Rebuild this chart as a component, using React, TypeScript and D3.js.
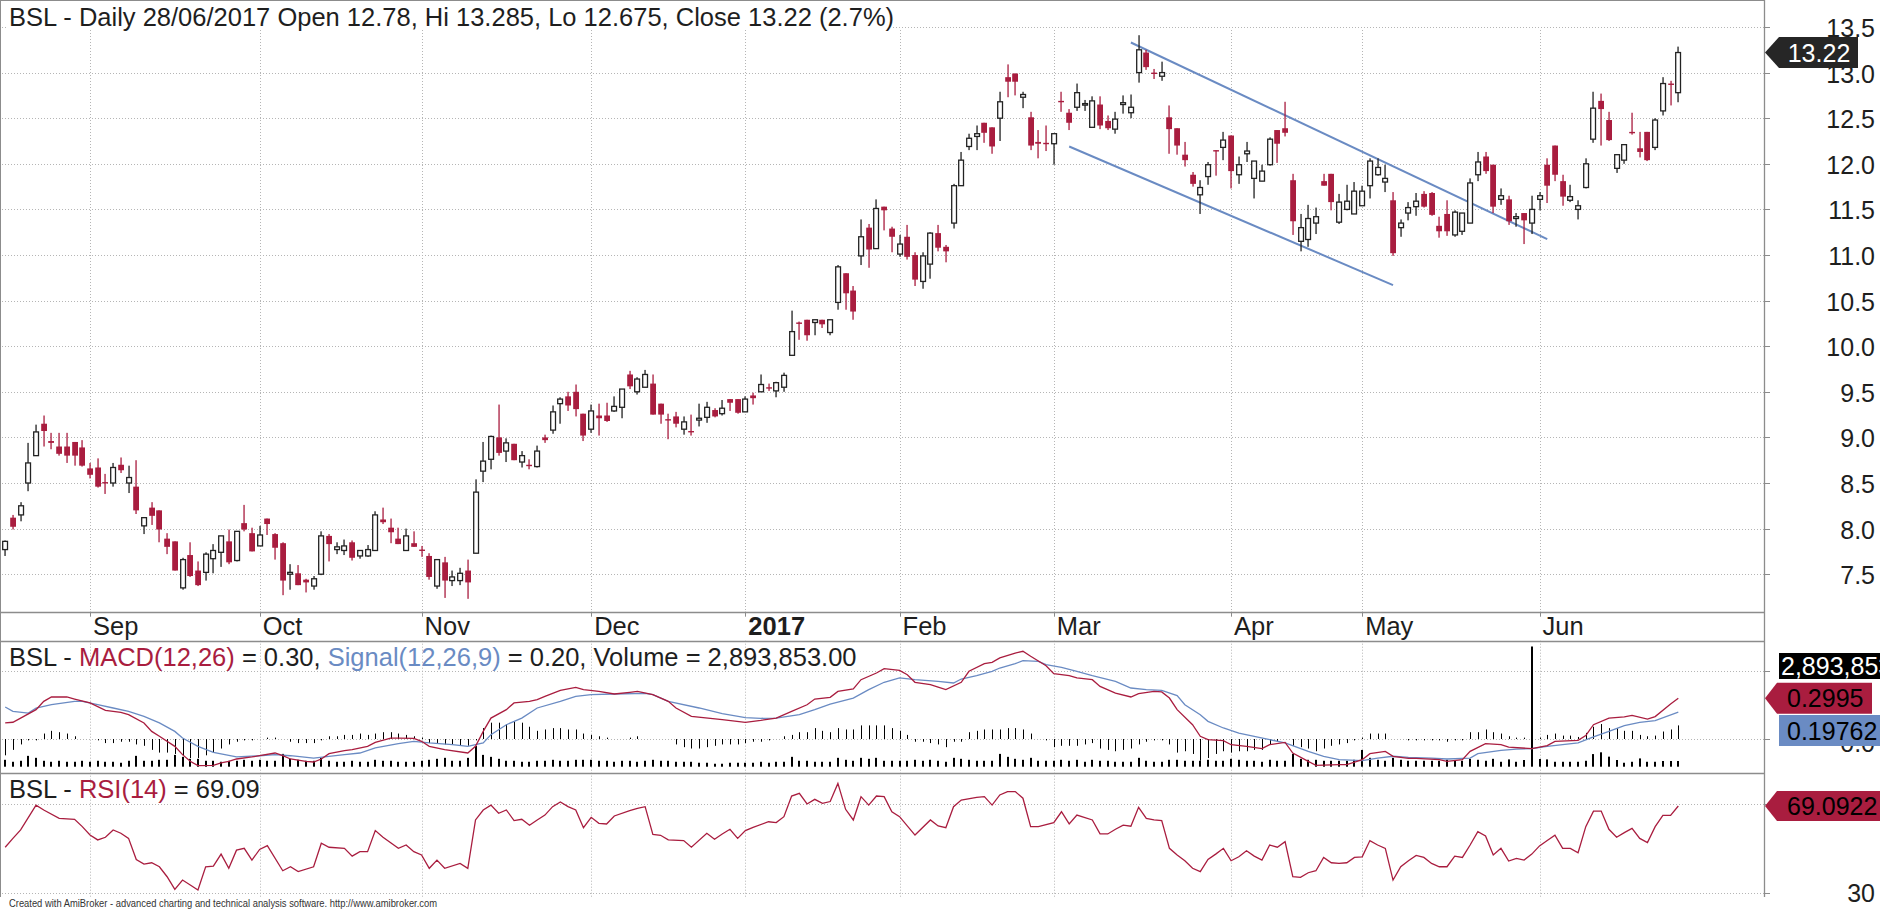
import React from 'react';
import * as d3 from 'd3';

// ---------- DATA ----------
const OPEN = [7.77,8.12,8.15,8.50,8.80,9.15,8.96,8.90,8.90,8.95,8.89,8.66,8.67,8.51,8.50,8.70,8.50,8.46,8.03,8.23,8.20,7.89,7.86,7.35,7.71,7.54,7.52,7.67,7.74,7.86,7.65,8.06,7.95,7.81,8.11,7.94,7.84,7.50,7.51,7.44,7.37,7.50,7.92,7.77,7.76,7.85,7.70,7.70,7.76,8.10,8.01,7.89,7.76,7.84,7.77,7.70,7.37,7.63,7.43,7.43,7.54,7.73,8.63,8.76,9.00,8.85,8.93,8.73,8.70,8.68,9.00,9.08,9.37,9.45,9.50,9.26,9.09,9.24,9.24,9.29,9.33,9.69,9.50,9.55,9.59,9.37,9.20,9.23,9.09,9.07,9.19,9.22,9.30,9.26,9.42,9.42,9.28,9.46,9.50,9.55,9.51,9.55,9.90,10.26,10.29,10.26,10.29,10.15,10.48,10.80,10.61,10.99,11.30,11.07,11.53,11.29,11.01,11.20,11.00,10.71,10.90,11.24,11.09,11.35,11.76,12.19,12.30,12.45,12.40,12.50,12.95,12.99,12.73,12.51,12.24,12.23,12.22,12.69,12.56,12.62,12.65,12.40,12.65,12.47,12.38,12.65,12.56,13.00,13.22,13.00,12.96,12.51,12.39,12.10,11.88,11.66,11.86,12.15,12.18,12.31,11.88,12.11,11.84,11.81,11.99,12.37,12.39,11.82,11.15,11.17,11.35,11.81,11.89,11.36,11.50,11.45,11.54,11.76,11.88,11.80,11.60,11.30,11.46,11.53,11.67,11.68,11.32,11.45,11.22,11.26,11.35,11.88,12.08,11.99,11.61,11.61,11.40,11.46,11.35,11.61,11.99,12.20,11.81,11.60,11.50,11.74,12.27,12.69,12.48,11.95,12.04,12.35,12.17,12.35,12.18,12.58,12.88,12.78];
const HIGH = [7.87,8.15,8.29,8.94,9.14,9.24,9.05,9.05,9.05,8.95,8.97,8.72,8.77,8.60,8.72,8.78,8.69,8.75,8.12,8.29,8.20,7.95,7.86,7.68,7.85,7.64,7.74,7.83,7.92,7.99,7.97,8.26,8.01,8.03,8.11,7.95,7.85,7.61,7.60,7.45,7.48,7.97,7.94,7.85,7.88,7.87,7.76,7.82,8.19,8.23,8.11,8.01,8.00,7.97,7.81,7.73,7.66,7.69,7.54,7.57,7.66,8.54,8.95,9.02,9.36,8.99,8.93,8.85,8.76,8.91,9.03,9.35,9.44,9.50,9.58,9.26,9.36,9.37,9.38,9.45,9.53,9.73,9.66,9.74,9.69,9.37,9.26,9.28,9.23,9.25,9.37,9.39,9.32,9.41,9.42,9.42,9.45,9.49,9.69,9.59,9.61,9.71,10.39,10.27,10.29,10.29,10.29,10.29,10.89,10.80,10.66,11.39,11.34,11.61,11.53,11.31,11.22,11.33,11.03,11.03,11.25,11.33,11.11,11.78,12.13,12.33,12.42,12.45,12.40,12.79,13.09,12.99,12.79,12.57,12.37,12.42,12.33,12.79,12.60,12.88,12.70,12.74,12.74,12.53,12.57,12.75,12.76,13.41,13.25,13.04,13.12,12.64,12.39,12.24,11.91,11.82,12.02,12.15,12.35,12.31,12.08,12.24,12.03,11.99,12.29,12.37,12.68,11.89,11.45,11.55,11.52,11.89,11.89,11.67,11.77,11.80,11.76,12.06,12.06,11.99,11.69,11.39,11.58,11.68,11.70,11.69,11.42,11.60,11.49,11.46,11.84,12.13,12.13,11.99,11.73,11.65,11.46,11.46,11.65,11.69,12.06,12.20,11.88,11.77,11.60,12.06,12.79,12.77,12.57,12.10,12.21,12.56,12.35,12.35,12.50,12.95,12.91,13.285];
const LOW = [7.70,7.99,8.08,8.41,8.80,8.90,8.87,8.80,8.72,8.69,8.68,8.55,8.45,8.38,8.46,8.61,8.39,8.16,7.94,8.04,7.85,7.72,7.54,7.33,7.47,7.37,7.43,7.51,7.58,7.61,7.64,7.97,7.75,7.81,7.93,7.66,7.27,7.33,7.38,7.30,7.33,7.49,7.64,7.72,7.71,7.65,7.67,7.69,7.76,8.05,7.84,7.83,7.76,7.80,7.69,7.44,7.34,7.24,7.37,7.38,7.23,7.73,8.51,8.65,8.80,8.73,8.75,8.67,8.65,8.67,8.94,9.04,9.15,9.29,9.23,8.96,9.05,9.02,9.17,9.28,9.21,9.53,9.47,9.55,9.25,9.15,8.98,9.11,9.03,9.02,9.12,9.16,9.22,9.24,9.29,9.26,9.28,9.36,9.50,9.51,9.44,9.50,9.90,10.07,10.06,10.12,10.20,10.12,10.40,10.40,10.29,10.89,10.86,11.07,11.27,11.03,10.98,10.95,10.66,10.63,10.74,11.04,10.92,11.29,11.76,12.15,12.15,12.23,12.11,12.25,12.73,12.75,12.61,12.15,12.06,12.14,11.99,12.57,12.37,12.58,12.58,12.40,12.38,12.37,12.33,12.55,12.50,12.89,13.03,12.93,12.91,12.11,12.10,11.97,11.75,11.45,11.77,11.87,12.04,11.73,11.78,12.02,11.62,11.81,11.98,12.01,12.30,11.22,11.04,11.09,11.23,11.76,11.49,11.34,11.49,11.45,11.54,11.62,11.87,11.69,10.99,11.20,11.38,11.43,11.52,11.43,11.19,11.21,11.20,11.22,11.35,11.81,11.89,11.46,11.55,11.33,11.31,11.12,11.23,11.49,11.57,11.81,11.54,11.58,11.39,11.73,12.23,12.20,12.25,11.90,12.00,12.32,12.07,12.03,12.15,12.53,12.64,12.675];
const CLOSE = [7.86,8.02,8.25,8.72,9.06,9.07,8.94,8.82,8.80,8.80,8.69,8.59,8.46,8.50,8.67,8.64,8.56,8.20,8.12,8.14,7.99,7.80,7.54,7.66,7.48,7.38,7.72,7.76,7.92,7.63,7.97,7.99,7.75,7.93,8.05,7.79,7.43,7.52,7.38,7.41,7.45,7.92,7.83,7.80,7.81,7.68,7.76,7.77,8.15,8.07,7.96,7.83,7.92,7.80,7.76,7.47,7.66,7.43,7.47,7.51,7.41,8.40,8.74,9.01,8.83,8.94,8.75,8.80,8.69,8.85,8.97,9.28,9.42,9.35,9.31,9.02,9.29,9.21,9.18,9.34,9.53,9.56,9.64,9.69,9.25,9.25,9.19,9.15,9.17,9.06,9.21,9.33,9.23,9.32,9.38,9.27,9.42,9.43,9.58,9.54,9.60,9.68,10.16,10.25,10.12,10.29,10.24,10.29,10.87,10.58,10.38,11.20,11.06,11.51,11.49,11.20,11.12,10.98,10.73,10.99,11.24,11.08,11.04,11.76,12.04,12.28,12.33,12.34,12.19,12.68,12.90,12.90,12.76,12.20,12.22,12.22,12.33,12.68,12.45,12.78,12.66,12.69,12.42,12.39,12.49,12.67,12.62,13.25,13.06,12.99,13.00,12.38,12.20,12.04,11.78,11.74,11.99,12.14,12.26,11.92,11.99,12.14,12.03,11.92,12.27,12.22,12.34,11.37,11.30,11.40,11.42,11.76,11.58,11.58,11.59,11.70,11.70,12.03,11.96,11.84,11.02,11.35,11.52,11.59,11.53,11.44,11.26,11.26,11.47,11.46,11.79,12.02,11.92,11.53,11.65,11.37,11.42,11.38,11.50,11.65,11.76,11.88,11.64,11.64,11.54,12.00,12.61,12.60,12.26,12.10,12.21,12.34,12.13,12.04,12.48,12.88,12.87,13.22];

// volume in millions of shares
const VOLUME = [3.5,2.5,3.0,5.5,4.5,3.0,2.5,3.0,2.5,2.5,3.0,
  2.5,3.0,2.5,2.5,2.0,3.0,5.5,3.0,3.0,3.5,3.5,6.0,5.0,4.0,4.0,3.0,3.0,2.5,3.0,3.0,3.5,3.0,
  3.5,3.0,3.0,6.5,4.0,3.5,3.0,3.0,4.5,3.0,2.5,2.5,3.0,2.5,2.5,3.5,3.0,3.0,2.5,2.5,2.5,
  3.0,3.5,4.0,4.5,3.0,3.0,4.5,10.5,6.0,5.0,4.0,3.0,3.0,2.5,2.5,3.0,3.0,3.5,3.0,3.0,3.5,3.5,
  3.5,3.0,3.0,2.5,3.0,3.0,2.5,3.0,3.5,3.0,3.0,2.5,2.5,2.5,2.0,2.0,1.5,1.5,2.0,2.0,
  2.0,2.0,2.5,2.0,2.5,2.5,5.0,3.0,3.0,2.5,2.5,2.5,4.5,3.5,3.0,4.5,4.0,4.5,3.0,3.0,
  3.0,3.0,3.5,3.0,3.5,3.0,2.5,4.5,4.0,3.5,3.0,3.0,3.0,6.5,5.0,4.0,3.5,4.5,3.0,3.0,
  3.0,3.5,3.0,3.5,2.5,3.5,3.0,3.0,2.5,2.5,2.5,4.5,3.0,2.5,2.5,3.5,3.5,3.0,3.0,3.0,3.5,3.0,3.0,
  4.0,3.5,3.0,3.0,2.5,3.5,3.0,3.0,6.5,4.0,3.5,3.5,3.0,3.0,3.0,3.0,3.5,
  8.5,4.5,3.5,3.0,4.5,3.5,3.0,3.0,3.0,3.0,3.0,3.5,3.0,3.0,4.0,3.5,3.0,4.0,2.5,3.7,2.5,3.4,61.0,
  3.9,3.7,2.5,2.5,2.5,2.5,3.0,6.4,7.3,5.1,3.4,2.0,2.5,4.2,2.5,2.5,2.9,2.9,2.894];
// MACD histogram (MACD - signal) per bar
const HIST = [-0.12,-0.08,-0.04,-0.01,-0.01,0.04,0.06,0.05,0.04,0.02,0.00,0.00,-0.01,-0.03,-0.03,-0.02,-0.02,-0.04,-0.05,-0.08,-0.10,-0.10,-0.11,-0.12,-0.14,-0.14,-0.12,-0.10,-0.07,-0.04,-0.02,-0.01,-0.01,0.00,0.01,0.01,0.00,-0.02,-0.03,-0.03,-0.03,-0.01,0.02,0.02,0.03,0.03,0.04,0.03,0.04,0.05,0.05,0.04,0.03,0.02,0.01,-0.03,-0.03,-0.04,-0.04,-0.05,-0.05,-0.01,0.08,0.12,0.12,0.11,0.13,0.12,0.09,0.06,0.07,0.08,0.08,0.07,0.07,0.04,0.03,0.02,0.01,0.00,0.00,0.01,0.02,0.00,0.00,0.00,0.00,-0.04,-0.06,-0.07,-0.07,-0.06,-0.05,-0.04,-0.04,-0.04,-0.03,-0.02,-0.02,-0.01,0.00,0.02,0.03,0.05,0.05,0.08,0.06,0.05,0.08,0.07,0.07,0.10,0.10,0.10,0.10,0.08,0.06,0.03,-0.02,-0.02,-0.03,-0.04,-0.06,-0.02,-0.02,0.05,0.06,0.07,0.07,0.07,0.08,0.08,0.07,0.04,0.00,-0.01,-0.06,-0.05,-0.05,-0.05,-0.04,-0.03,-0.07,-0.08,-0.09,-0.08,-0.07,-0.04,-0.02,-0.01,-0.01,-0.04,-0.10,-0.09,-0.11,-0.16,-0.14,-0.11,-0.09,-0.10,-0.09,-0.09,-0.08,-0.08,-0.04,-0.02,0.00,-0.05,-0.06,-0.07,-0.09,-0.07,-0.05,-0.04,-0.03,-0.01,0.01,0.04,0.04,0.04,0.00,0.00,-0.01,-0.01,-0.01,-0.01,-0.01,-0.02,-0.01,-0.01,0.05,0.05,0.07,0.05,0.04,0.02,0.01,0.01,0.00,0.01,0.03,0.04,0.025,0.025,0.015,0.045,0.09,0.11,0.08,0.08,0.06,0.06,0.03,0.02,0.025,0.055,0.07,0.10];

const MONTHS = [
  { label: 'Sep', bar: 11, bold: false },
  { label: 'Oct', bar: 33, bold: false },
  { label: 'Nov', bar: 54, bold: false },
  { label: 'Dec', bar: 76, bold: false },
  { label: '2017', bar: 96, bold: true },
  { label: 'Feb', bar: 116, bold: false },
  { label: 'Mar', bar: 136, bold: false },
  { label: 'Apr', bar: 159, bold: false },
  { label: 'May', bar: 176, bold: false },
  { label: 'Jun', bar: 199, bold: false },
];
const PRICE_TICKS = [7.5, 8.0, 8.5, 9.0, 9.5, 10.0, 10.5, 11.0, 11.5, 12.0, 12.5, 13.0, 13.5];
const MACD_TICKS = [0, 0.5];
const RSI_TICKS = [30, 70];

// trend lines: [bar1, price1, bar2, price2]
const TRENDLINES = [
  [146, 13.33, 200, 11.175],
  [138, 12.19, 180, 10.67],
];

// indicator vertices [bar, value]
const MACD_PTS = [[0,0.118],[1,0.123],[2,0.154],[4,0.216],[5,0.277],[6,0.309],[8,0.309],[9,0.294],[11,0.265],[13,0.211],[15,0.196],[16,0.179],[18,0.118],[19,0.056],[20,0.020],[22,-0.054],[23,-0.115],[24,-0.164],[25,-0.196],[27,-0.194],[28,-0.176],[29,-0.164],[30,-0.147],[32,-0.132],[33,-0.123],[35,-0.103],[36,-0.123],[37,-0.147],[39,-0.164],[40,-0.169],[41,-0.147],[42,-0.108],[44,-0.086],[45,-0.078],[47,-0.054],[48,-0.025],[50,0.007],[51,0.007],[53,0.005],[54,-0.017],[55,-0.054],[57,-0.078],[60,-0.103],[61,-0.054],[62,0.056],[63,0.154],[65,0.216],[66,0.265],[68,0.277],[69,0.289],[70,0.314],[72,0.358],[74,0.380],[75,0.363],[77,0.350],[79,0.331],[81,0.343],[82,0.350],[84,0.326],[86,0.277],[87,0.228],[89,0.167],[93,0.142],[96,0.123],[98,0.137],[100,0.154],[102,0.203],[104,0.252],[105,0.294],[107,0.306],[108,0.350],[110,0.368],[111,0.436],[113,0.485],[114,0.517],[116,0.505],[117,0.473],[118,0.417],[120,0.400],[121,0.382],[122,0.363],[124,0.417],[125,0.498],[127,0.554],[128,0.564],[129,0.596],[131,0.632],[132,0.645],[133,0.608],[135,0.539],[136,0.480],[138,0.466],[139,0.449],[141,0.436],[142,0.387],[144,0.338],[146,0.309],[147,0.333],[149,0.350],[150,0.346],[151,0.301],[152,0.216],[154,0.105],[155,0.020],[156,-0.005],[158,-0.012],[159,-0.042],[161,-0.054],[163,-0.071],[164,-0.042],[166,-0.025],[167,-0.103],[169,-0.164],[170,-0.194],[173,-0.189],[174,-0.189],[176,-0.152],[177,-0.108],[179,-0.091],[180,-0.127],[182,-0.142],[183,-0.142],[186,-0.152],[187,-0.164],[189,-0.152],[190,-0.091],[192,-0.034],[194,-0.042],[195,-0.059],[198,-0.071],[200,-0.049],[201,-0.017],[204,-0.010],[205,0.025],[206,0.105],[208,0.154],[210,0.162],[211,0.174],[213,0.147],[214,0.165],[216,0.258],[217,0.2995]];
const SIGNAL_PTS = [[0,0.235],[1,0.203],[3,0.191],[4,0.228],[6,0.252],[9,0.277],[10,0.277],[12,0.252],[14,0.228],[16,0.203],[18,0.167],[20,0.118],[22,0.056],[23,0.007],[25,-0.054],[27,-0.098],[29,-0.120],[30,-0.132],[33,-0.123],[35,-0.115],[37,-0.123],[40,-0.140],[42,-0.127],[44,-0.115],[46,-0.103],[48,-0.066],[51,-0.034],[53,-0.017],[55,-0.029],[58,-0.042],[60,-0.054],[62,-0.029],[63,0.032],[65,0.105],[67,0.154],[69,0.228],[72,0.277],[74,0.314],[76,0.326],[79,0.331],[83,0.336],[84,0.326],[86,0.277],[90,0.228],[93,0.186],[96,0.157],[98,0.152],[100,0.154],[103,0.179],[105,0.216],[107,0.257],[110,0.301],[112,0.363],[114,0.417],[116,0.449],[118,0.436],[121,0.424],[123,0.412],[124,0.441],[126,0.466],[128,0.498],[129,0.522],[131,0.554],[132,0.576],[134,0.571],[135,0.547],[137,0.527],[139,0.498],[141,0.466],[144,0.424],[146,0.375],[148,0.363],[150,0.358],[152,0.319],[153,0.252],[155,0.179],[156,0.130],[158,0.081],[160,0.044],[162,0.020],[164,-0.005],[166,-0.029],[169,-0.091],[171,-0.127],[173,-0.152],[176,-0.159],[178,-0.140],[180,-0.127],[182,-0.135],[185,-0.140],[187,-0.147],[190,-0.140],[191,-0.108],[194,-0.083],[196,-0.074],[198,-0.071],[200,-0.054],[202,-0.042],[204,-0.029],[206,0.015],[208,0.056],[210,0.098],[212,0.123],[214,0.135],[217,0.1976]];
const RSI_PTS = [[0,50.5],[1,54.5],[2,58.3],[4,69.5],[5,67.3],[7,63.5],[9,63.1],[10,59.8],[11,56.0],[12,53.8],[13,55.0],[14,58.3],[15,56.8],[16,54.5],[17,45.0],[18,42.9],[19,43.5],[20,41.7],[21,37.2],[22,31.5],[23,35.7],[24,33.5],[25,31.2],[26,41.7],[27,42.0],[28,47.4],[29,41.0],[30,49.2],[31,50.0],[32,44.7],[33,49.5],[34,51.2],[36,39.9],[37,41.7],[38,39.5],[40,41.7],[41,52.3],[42,50.5],[44,50.0],[45,46.5],[46,48.5],[47,48.5],[48,58.0],[49,55.0],[51,50.0],[52,51.5],[53,48.5],[54,47.0],[55,41.0],[56,44.7],[57,41.0],[59,43.2],[60,41.0],[61,62.8],[62,67.3],[63,69.5],[64,65.8],[65,67.3],[66,62.5],[67,63.1],[68,60.4],[69,62.8],[70,65.0],[71,68.8],[72,70.9],[73,68.8],[74,67.3],[75,59.3],[76,64.0],[77,61.3],[78,61.0],[79,64.6],[81,67.0],[82,68.0],[83,68.8],[84,56.3],[85,55.9],[86,53.8],[88,53.5],[89,50.5],[91,56.8],[92,54.1],[93,56.5],[94,58.6],[95,54.5],[96,58.0],[97,59.5],[99,62.0],[100,61.6],[101,64.3],[102,73.6],[103,74.8],[104,70.0],[105,72.1],[106,70.3],[107,71.1],[108,79.3],[109,67.6],[110,62.8],[111,73.3],[112,69.5],[113,73.6],[114,73.3],[115,66.5],[116,64.3],[118,56.0],[120,62.8],[121,60.1],[122,59.3],[123,68.8],[124,71.8],[126,73.0],[127,73.3],[128,69.5],[129,74.1],[130,75.6],[131,75.6],[132,72.6],[133,59.8],[134,59.8],[136,61.6],[137,66.5],[138,61.0],[139,65.0],[141,62.8],[142,56.5],[143,56.5],[144,58.6],[145,60.5],[146,60.0],[147,68.5],[148,63.5],[149,62.8],[150,62.5],[151,50.0],[152,47.0],[153,44.4],[154,41.0],[155,39.5],[156,45.0],[157,47.4],[158,50.0],[159,44.4],[160,46.2],[161,48.9],[162,46.5],[163,44.7],[164,51.5],[165,50.5],[166,53.0],[167,37.2],[168,36.9],[169,39.0],[170,39.9],[171,45.9],[172,43.5],[173,43.2],[174,43.5],[175,45.9],[176,46.2],[177,53.5],[178,51.5],[179,50.0],[180,35.7],[181,41.7],[182,44.4],[183,46.8],[184,45.9],[185,43.2],[186,41.7],[187,41.7],[188,46.5],[189,45.9],[190,51.5],[191,57.5],[192,55.6],[193,47.0],[194,50.0],[195,44.3],[196,45.5],[197,44.7],[198,47.4],[199,51.1],[200,53.5],[201,55.9],[202,50.0],[203,50.0],[204,48.0],[205,59.8],[206,66.8],[207,66.8],[208,58.6],[209,55.0],[210,57.1],[211,59.0],[212,54.5],[213,52.6],[214,59.8],[215,64.9],[216,64.9],[217,69.09]];

const TITLE = 'BSL - Daily 28/06/2017 Open 12.78, Hi 13.285, Lo 12.675, Close 13.22 (2.7%)';
const LAST_PRICE = '13.22';
const LAST_MACD = '0.2995';
const LAST_SIGNAL = '0.19762';
const LAST_VOLUME = '2,893,853';
const LAST_RSI = '69.0922';

// ---------- STYLE ----------
const W = 1880, H = 911;
const AXIS_X = 1764;
const RED = '#a91d3f';
const BLUE = '#6a8bc3';
const DARK = '#1e1e1e';
const GRID = '#b5b5b5';
const FRAME = '#8c8c8c';
const FONT = "'Liberation Sans', Arial, Helvetica, sans-serif";

export default function App() {
  const x = d3.scaleLinear().domain([0, 217]).range([5.2, 1678.3]);
  const yP = d3.scaleLinear().domain([7.5, 13.5]).range([574.2, 27]);
  const yM = d3.scaleLinear().domain([0, 0.5]).range([739, 671]);
  const yV = d3.scaleLinear().domain([0, 61]).range([766.7, 646.5]);
  const yR = d3.scaleLinear().domain([30, 70]).range([892.7, 804]);

  const macdLine = d3.line<number[]>().x(d => x(d[0])).y(d => yM(d[1]));
  const rsiLine = d3.line<number[]>().x(d => x(d[0])).y(d => yR(d[1]));
  const fmt = d3.format('.1f');
  const px = (v: number) => Math.round(v) + 0.5;

  const PRICE_TOP = 30, PRICE_BOT = 611.7, DATE_BOT = 640.7, MACD_BOT = 773.3, RSI_BOT = 897;

  return (
    <svg width={W} height={H} style={{ position: 'absolute', left: 0, top: 0, background: '#fff' }}
      fontFamily={FONT}>
      <rect x={0} y={0} width={W} height={H} fill="#fff" />

      {/* horizontal grid */}
      {PRICE_TICKS.map(t => (
        <line key={'pg' + t} x1={2} x2={AXIS_X} y1={px(yP(t))} y2={px(yP(t))} stroke={GRID} strokeDasharray="1 2" />
      ))}
      {MACD_TICKS.map(t => (
        <line key={'mg' + t} x1={2} x2={AXIS_X} y1={px(yM(t))} y2={px(yM(t))} stroke={GRID} strokeDasharray="1 2" />
      ))}
      {RSI_TICKS.map(t => (
        <line key={'rg' + t} x1={2} x2={AXIS_X} y1={px(yR(t))} y2={px(yR(t))} stroke={GRID} strokeDasharray="1 2" />
      ))}
      {/* vertical grid */}
      {MONTHS.map(m => (
        <g key={'vg' + m.label}>
          <line x1={px(x(m.bar))} x2={px(x(m.bar))} y1={PRICE_TOP} y2={PRICE_BOT} stroke={GRID} strokeDasharray="1 2" />
          <line x1={px(x(m.bar))} x2={px(x(m.bar))} y1={DATE_BOT} y2={RSI_BOT} stroke={GRID} strokeDasharray="1 2" />
          <line x1={px(x(m.bar))} x2={px(x(m.bar))} y1={PRICE_BOT} y2={PRICE_BOT + 5} stroke={FRAME} />
        </g>
      ))}

      {/* frame */}
      <line x1={0} x2={AXIS_X} y1={0.5} y2={0.5} stroke={FRAME} />
      <line x1={0.5} x2={0.5} y1={0} y2={RSI_BOT} stroke={FRAME} />
      <line x1={AXIS_X + 0.5} x2={AXIS_X + 0.5} y1={0} y2={RSI_BOT} stroke={FRAME} strokeWidth={1.3} />
      {[PRICE_BOT, DATE_BOT, MACD_BOT].map(yy => (
        <line key={'sep' + yy} x1={0} x2={AXIS_X} y1={px(yy)} y2={px(yy)} stroke={FRAME} strokeWidth={1.3} />
      ))}

      {/* trend lines */}
      {TRENDLINES.map((t, k) => (
        <line key={'tl' + k} x1={x(t[0])} y1={yP(t[1])} x2={x(t[2])} y2={yP(t[3])} stroke={BLUE} strokeWidth={2} />
      ))}

      {/* candles */}
      {OPEN.map((o, i) => {
        const c = CLOSE[i];
        const up = c >= o;
        const cx = Math.round(x(i));
        const yo = yP(o), yc = yP(c);
        const top = Math.min(yo, yc);
        const h = Math.max(1.4, Math.abs(yo - yc));
        const col = up ? '#222' : RED;
        return (
          <g key={'c' + i}>
            <rect x={cx - 0.6} width={1.3} y={yP(HIGH[i])} height={Math.max(1, yP(LOW[i]) - yP(HIGH[i]))} fill={col} />
            {up ? (
              <rect x={cx - 2.3} width={4.8} y={top} height={Math.max(1.5, h)} fill="#fff" stroke="#222" strokeWidth={1.3} />
            ) : (
              <rect x={cx - 2.8} width={5.8} y={top} height={h} fill={RED} />
            )}
          </g>
        );
      })}

      {/* title with white backing */}
      <rect x={8} y={2} width={884} height={27} fill="#fff" />
      <text x={9} y={26} fontSize={25.5} fill={DARK}>{TITLE}</text>

      {/* price axis labels + ticks */}
      {PRICE_TICKS.map(t => (
        <g key={'pl' + t}>
          <line x1={AXIS_X} x2={AXIS_X + 6} y1={px(yP(t))} y2={px(yP(t))} stroke={FRAME} />
          <text x={1875} y={yP(t) + 10} fontSize={25} textAnchor="end" fill={DARK}>{fmt(t)}</text>
        </g>
      ))}
      {(() => {
        const yy = yP(+LAST_PRICE);
        return (
          <g>
            <polygon points={`${AXIS_X + 1},${yy} ${1779},${yy - 15.5} ${1858},${yy - 15.5} ${1858},${yy + 15.5} ${1779},${yy + 15.5}`} fill="#262626" />
            <text x={1819} y={yy + 9} fontSize={25} textAnchor="middle" fill="#fff">{LAST_PRICE}</text>
          </g>
        );
      })()}

      {/* month labels */}
      {MONTHS.map(m => (
        <text key={'ml' + m.label} x={x(m.bar) + 3} y={635} fontSize={25.5} fontWeight={m.bold ? 'bold' : 'normal'} fill={DARK}>{m.label}</text>
      ))}

      {/* MACD pane: volume, histogram, lines */}
      {VOLUME.map((v, i) => (
        <rect key={'v' + i} x={Math.round(x(i)) - 1} width={2} y={yV(v)} height={yV(0) - yV(v)} fill="#000" />
      ))}
      {HIST.map((h, i) => (
        <line key={'h' + i} x1={Math.round(x(i)) + 0.5} x2={Math.round(x(i)) + 0.5} y1={yM(0)} y2={yM(h)} stroke="#000" strokeWidth={1} />
      ))}
      <path d={macdLine(SIGNAL_PTS) || ''} fill="none" stroke={BLUE} strokeWidth={1.3} />
      <path d={macdLine(MACD_PTS) || ''} fill="none" stroke={RED} strokeWidth={1.3} />
      <text x={9} y={666} fontSize={25.5} fill={DARK}>
        BSL - <tspan fill={RED}>MACD(12,26)</tspan> = 0.30, <tspan fill={BLUE}>Signal(12,26,9)</tspan> = 0.20, Volume = 2,893,853.00
      </text>
      {MACD_TICKS.map(t => (
        <line key={'mt' + t} x1={AXIS_X} x2={AXIS_X + 6} y1={px(yM(t))} y2={px(yM(t))} stroke={FRAME} />
      ))}
      <text x={1875} y={yM(0) + 13} fontSize={25} textAnchor="end" fill={DARK}>{fmt(0)}</text>
      <rect x={1779} y={653} width={101} height={26} fill="#000" />
      <text x={1781} y={675} fontSize={25} fill="#fff">{LAST_VOLUME}</text>
      {(() => {
        const yy = yM(+LAST_MACD);
        return (
          <g>
            <polygon points={`${AXIS_X + 1},${yy} ${1777},${yy - 15.5} ${1872},${yy - 15.5} ${1872},${yy + 15.5} ${1777},${yy + 15.5}`} fill={RED} />
            <text x={1787} y={yy + 9} fontSize={25} fill="#000">{LAST_MACD}</text>
          </g>
        );
      })()}
      <rect x={1779} y={715} width={101} height={31} fill={BLUE} />
      <text x={1787} y={740} fontSize={25} fill="#000">{LAST_SIGNAL}</text>

      {/* RSI pane */}
      <path d={rsiLine(RSI_PTS) || ''} fill="none" stroke={RED} strokeWidth={1.3} />
      <text x={9} y={798} fontSize={25.5} fill={DARK}>
        BSL - <tspan fill={RED}>RSI(14)</tspan> = 69.09
      </text>
      {RSI_TICKS.map(t => (
        <line key={'rt' + t} x1={AXIS_X} x2={AXIS_X + 6} y1={px(yR(t))} y2={px(yR(t))} stroke={FRAME} />
      ))}
      <text x={1875} y={yR(30) + 9} fontSize={25} textAnchor="end" fill={DARK}>30</text>
      {(() => {
        const yy = yR(+LAST_RSI);
        return (
          <g>
            <polygon points={`${AXIS_X + 1},${yy} ${1777},${yy - 15} ${1880},${yy - 15} ${1880},${yy + 15} ${1777},${yy + 15}`} fill={RED} />
            <text x={1787} y={yy + 9} fontSize={25} fill="#000">{LAST_RSI}</text>
          </g>
        );
      })()}

      <text x={9} y={907} fontSize={10.5} fill="#333" textLength={428} lengthAdjust="spacingAndGlyphs">
        Created with AmiBroker - advanced charting and technical analysis software. http://www.amibroker.com
      </text>
    </svg>
  );
}
